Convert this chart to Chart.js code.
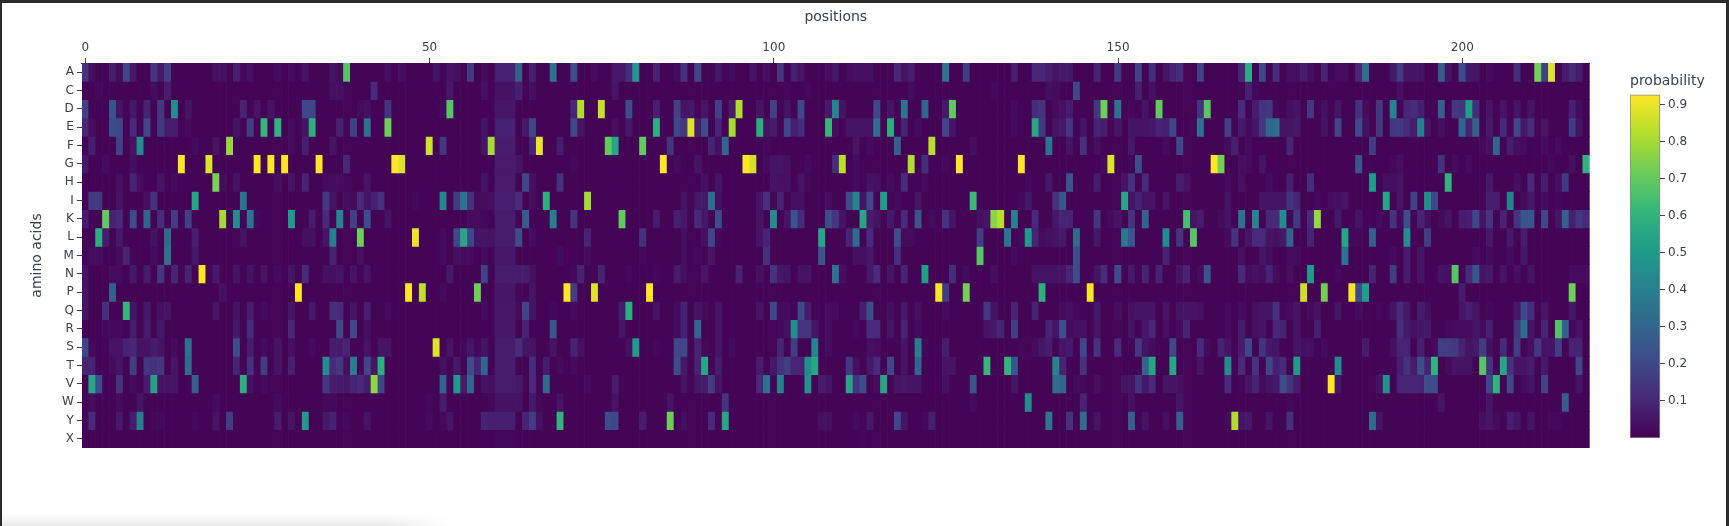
<!DOCTYPE html>
<html>
<head>
<meta charset="utf-8">
<title>Amino acid probabilities by position</title>
<script src="https://cdn.jsdelivr.net/npm/chart.js@4"></script>
<style>
  html, body { margin: 0; padding: 0; background: #fff; overflow: hidden; }
  #page { position: relative; width: 1729px; height: 526px; background: #fff; }
  #frame { position: absolute; left: 0; top: 0; right: 0; bottom: 0; box-sizing: border-box;
           border-top: 3px solid #2b2b2b; border-left: 2px solid #2b2b2b; border-right: 3px solid #2b2b2b; pointer-events: none; }
  #shade { position: absolute; left: 2px; bottom: 0; width: 450px; height: 13px;
           background: linear-gradient(to bottom, rgba(235,235,235,0), rgba(235,235,235,1));
           -webkit-mask-image: linear-gradient(to right, #000 85%, transparent); }
  #heat { position: absolute; left: 0; top: 0; }
  #scale { position: absolute; left: 1630px; top: 70px; }
</style>
</head>
<body>
<div id="page">
  <canvas id="heat" width="1729" height="526"></canvas>
  <canvas id="scale" width="95" height="376"></canvas>
  <div id="shade"></div>
  <div id="frame"></div>
</div>
<script>
// Residues on the vertical axis, top to bottom
const aminoAcids = ['A','C','D','E','F','G','H','I','K','L','M','N','P','Q','R','S','T','V','W','Y','X'];
const positionCount = 219;
const positionTicks = [0, 50, 100, 150, 200];
const probabilityTicks = [0.1, 0.2, 0.3, 0.4, 0.5, 0.6, 0.7, 0.8, 0.9];
const probabilityMax = 0.927;
const floorProbability = 0.01;   // positions not listed for a residue

// Probability per position, one table for each residue
const rowA = {0:.13,1:.04,4:.07,5:.03,6:.2,7:.06,10:.14,11:.06,12:.17,19:.04,20:.04,22:.08,23:.02,24:.04,28:.03,30:.03,32:.05,36:.05,37:.03,38:.68,44:.04,46:.04,51:.05,53:.05,54:.04,56:.16,58:.03,60:.085,61:.085,62:.085,63:.28,65:.08,68:.35,71:.22,74:.03,77:.06,78:.06,79:.12,80:.5,83:.09,86:.03,87:.13,89:.2,92:.06,94:.03,97:.05,99:.04,101:.15,103:.08,104:.05,108:.03,109:.06,111:.03,112:.04,113:.04,114:.04,118:.1,119:.05,120:.07,125:.35,128:.17,135:.08,138:.1,139:.1,140:.07,141:.05,142:.06,143:.06,147:.09,150:.16,153:.18,155:.12,157:.05,158:.09,159:.12,162:.18,168:.1,169:.58,171:.2,173:.12,175:.04,176:.04,177:.07,178:.04,180:.09,182:.03,183:.03,185:.1,186:.33,190:.06,191:.16,192:.05,193:.05,194:.05,197:.27,198:.05,200:.22,201:.06,202:.05,204:.03,208:.12,211:.73,212:.18,213:.88,215:.07,216:.11,217:.07};
const rowC = {2:.02,10:.03,12:.07,36:.04,37:.04,42:.11,53:.06,58:.04,60:.045,61:.045,62:.045,63:.08,65:.04,77:.05,102:.02,105:.02,120:.03,132:.02,140:.04,141:.03,144:.2,153:.08,155:.04,169:.08,170:.02,191:.04};
const rowD = {0:.18,4:.25,5:.05,7:.06,9:.09,11:.15,13:.45,15:.05,23:.09,25:.05,27:.05,32:.2,33:.2,40:.03,41:.04,44:.14,52:.03,53:.68,60:.055,61:.055,62:.055,71:.1,72:.82,75:.85,79:.22,83:.08,86:.18,87:.05,88:.06,90:.05,92:.18,94:.07,95:.82,98:.05,100:.18,102:.05,104:.2,108:.06,109:.42,110:.05,115:.2,117:.05,119:.35,122:.3,125:.06,126:.7,135:.03,138:.12,139:.14,141:.03,142:.04,143:.07,147:.15,148:.72,150:.35,152:.02,154:.05,156:.7,162:.13,163:.68,168:.12,170:.07,171:.14,172:.15,173:.02,175:.04,176:.05,178:.15,180:.04,182:.05,185:.13,186:.03,188:.15,190:.42,192:.1,193:.12,194:.08,197:.28,199:.15,200:.14,201:.52,202:.12,204:.05,206:.05,208:.05,210:.05,216:.08,217:.03};
const rowE = {0:.1,1:.03,4:.22,5:.2,7:.11,9:.2,11:.16,12:.07,13:.07,15:.03,22:.05,24:.17,26:.62,28:.6,30:.03,32:.05,33:.58,37:.09,39:.18,41:.35,44:.72,58:.05,60:.085,61:.085,62:.085,64:.06,65:.2,71:.2,72:.05,77:.04,79:.06,83:.58,86:.2,87:.15,88:.88,89:.07,90:.22,92:.09,94:.8,98:.58,99:.05,100:.07,102:.2,103:.07,104:.12,108:.62,109:.03,111:.05,112:.05,113:.05,114:.05,115:.33,117:.58,119:.09,121:.03,125:.2,126:.05,135:.03,138:.55,139:.16,141:.05,142:.06,143:.15,145:.05,147:.09,148:.07,150:.05,152:.05,153:.05,154:.05,155:.06,156:.09,157:.08,158:.2,161:.02,162:.35,166:.18,168:.06,169:.03,170:.05,171:.15,172:.3,173:.33,174:.05,175:.05,176:.06,180:.05,182:.2,185:.22,186:.05,188:.15,190:.15,191:.16,192:.11,193:.07,194:.4,195:.05,197:.04,200:.3,201:.09,202:.28,204:.06,206:.11,208:.2,209:.06,210:.12,212:.05,216:.17,217:.05};
const rowF = {1:.08,5:.18,7:.05,8:.45,16:.03,19:.05,21:.78,30:.03,32:.08,36:.05,50:.86,52:.15,58:.05,59:.8,60:.07,61:.07,62:.07,65:.09,66:.9,69:.07,76:.7,77:.55,81:.7,85:.14,91:.09,92:.04,93:.3,99:.02,112:.05,114:.03,118:.28,123:.83,129:.04,140:.35,143:.05,145:.13,147:.04,152:.06,157:.03,159:.2,166:.03,167:.08,169:.03,175:.09,187:.17,203:.02,204:.04,205:.3,207:.07,208:.04,209:.03,212:.03,214:.03};
const rowG = {0:.06,3:.03,7:.04,14:.93,18:.88,25:.93,27:.93,29:.93,34:.93,38:.1,45:.93,46:.88,60:.065,61:.065,62:.065,63:.05,71:.02,84:.93,86:.03,89:.05,96:.93,97:.87,99:.03,100:.05,101:.05,102:.04,105:.03,109:.12,110:.83,112:.03,120:.82,122:.12,125:.02,127:.93,136:.93,148:.03,149:.88,153:.22,164:.93,165:.73,168:.04,169:.03,171:.05,185:.25,190:.02,191:.04,197:.13,199:.03,201:.03,213:.02,216:.04,218:.6};
const rowH = {5:.04,7:.09,8:.03,11:.05,13:.03,19:.74,20:.03,22:.05,28:.04,30:.05,32:.09,35:.03,36:.03,37:.03,41:.05,58:.05,60:.065,61:.065,62:.065,64:.2,65:.04,69:.13,90:.04,92:.05,100:.05,101:.04,102:.04,104:.05,105:.02,112:.03,114:.05,115:.04,117:.03,119:.12,122:.03,137:.02,140:.06,143:.25,147:.07,151:.05,152:.13,154:.11,159:.07,160:.05,166:.03,168:.04,172:.03,175:.08,178:.12,187:.5,189:.04,190:.04,191:.05,198:.6,204:.06,208:.04,210:.11,212:.07,214:.04,215:.16};
const rowI = {1:.16,2:.16,5:.05,9:.04,10:.14,16:.55,23:.35,35:.16,36:.05,38:.04,39:.03,40:.11,41:.05,42:.08,43:.13,48:.02,52:.42,54:.17,55:.35,56:.13,57:.03,58:.03,59:.04,60:.08,61:.08,62:.08,63:.11,65:.03,67:.58,73:.8,87:.05,89:.06,90:.06,91:.33,92:.04,98:.05,99:.13,101:.09,103:.04,104:.04,108:.03,111:.22,112:.42,113:.05,114:.2,116:.52,118:.03,121:.05,129:.63,136:.02,137:.06,141:.13,142:.25,151:.55,152:.05,153:.09,154:.05,155:.05,157:.05,166:.05,171:.05,172:.05,173:.05,174:.05,175:.14,176:.09,179:.02,181:.03,182:.04,183:.05,189:.55,191:.05,193:.18,195:.45,196:.2,204:.07,205:.07,207:.42,209:.03,210:.06,212:.03,214:.02};
const rowK = {0:.07,3:.7,4:.09,5:.11,7:.22,9:.3,11:.12,13:.17,15:.18,20:.8,22:.45,24:.35,25:.02,30:.5,33:.07,35:.11,37:.42,39:.18,41:.22,44:.05,56:.03,57:.03,58:.02,60:.07,61:.07,62:.07,64:.27,68:.4,71:.14,78:.7,83:.07,86:.08,87:.06,89:.11,90:.06,92:.22,98:.05,100:.45,102:.05,103:.25,104:.11,108:.22,109:.15,110:.05,113:.55,114:.07,115:.05,117:.06,119:.11,121:.25,123:.03,125:.14,126:.05,130:.04,131:.05,132:.76,133:.83,135:.4,138:.11,141:.06,142:.09,143:.09,147:.15,149:.03,150:.05,152:.14,154:.3,160:.65,161:.05,162:.07,165:.03,166:.05,168:.35,170:.42,172:.1,173:.11,174:.45,176:.16,178:.11,179:.78,182:.06,185:.05,188:.03,190:.14,191:.03,192:.22,194:.09,195:.04,197:.03,198:.05,200:.07,201:.08,202:.2,203:.05,204:.14,206:.09,208:.14,209:.25,210:.25,212:.2,214:.05,215:.28,216:.08,217:.15,218:.11};
const rowL = {2:.58,3:.07,5:.06,10:.05,12:.32,16:.08,23:.05,32:.04,33:.04,35:.05,36:.4,40:.72,48:.9,52:.03,54:.2,55:.55,56:.2,57:.05,58:.05,59:.05,60:.07,61:.07,62:.07,63:.22,65:.03,73:.09,81:.13,87:.04,90:.04,91:.2,92:.02,98:.05,99:.09,107:.55,111:.09,112:.32,114:.11,118:.22,119:.03,120:.03,130:.17,134:.37,136:.02,137:.5,138:.09,139:.03,140:.04,141:.05,142:.06,144:.32,147:.06,151:.38,152:.25,157:.45,159:.14,161:.68,166:.03,167:.14,169:.05,170:.11,171:.11,172:.05,173:.04,174:.06,175:.3,178:.09,183:.55,184:.02,185:.02,187:.28,192:.45,195:.17,204:.06,207:.06,209:.07};
const rowM = {1:.03,2:.03,5:.03,6:.09,10:.03,12:.35,16:.06,36:.09,40:.04,52:.03,54:.04,55:.03,56:.03,58:.03,60:.06,61:.06,62:.06,69:.03,73:.03,81:.02,87:.04,89:.02,91:.05,99:.13,107:.25,112:.04,113:.04,114:.06,118:.12,130:.68,135:.03,144:.22,157:.09,168:.04,171:.05,172:.03,175:.03,176:.03,183:.35,190:.03,192:.07,194:.05,202:.03,204:.03,207:.03,209:.06};
const rowN = {0:.05,4:.03,5:.03,7:.06,9:.07,11:.15,13:.09,15:.09,17:.93,19:.06,22:.05,24:.05,26:.05,28:.03,30:.05,32:.11,35:.04,36:.04,37:.05,39:.05,41:.05,53:.06,58:.18,60:.07,61:.07,62:.07,63:.07,64:.07,65:.04,71:.02,72:.09,75:.09,79:.02,83:.02,86:.07,87:.04,90:.05,95:.09,98:.04,100:.14,101:.06,102:.05,104:.05,105:.05,109:.35,110:.04,114:.06,115:.11,117:.05,119:.09,122:.52,126:.12,128:.03,132:.04,138:.05,139:.05,140:.05,141:.05,142:.05,143:.09,144:.22,147:.05,148:.12,150:.22,152:.06,154:.09,156:.09,159:.05,160:.09,162:.03,163:.25,168:.11,169:.03,170:.04,171:.03,172:.09,173:.03,175:.04,178:.5,182:.02,187:.09,190:.17,192:.07,194:.05,197:.05,198:.04,199:.68,201:.11,202:.25,203:.05,204:.06,206:.05,208:.04,210:.05,216:.03,217:.03,218:.03};
const rowP = {0:.05,4:.28,20:.04,31:.93,47:.93,49:.84,52:.03,57:.72,60:.055,61:.055,62:.055,63:.02,65:.05,70:.93,71:.17,74:.88,82:.93,124:.92,125:.17,128:.73,139:.58,146:.92,177:.86,180:.73,184:.92,185:.22,186:.52,200:.07,216:.72};
const rowQ = {0:.05,3:.13,6:.62,7:.05,9:.06,11:.04,12:.05,19:.05,22:.05,24:.07,26:.03,30:.05,33:.06,36:.12,37:.11,39:.05,41:.08,44:.03,58:.03,60:.06,61:.06,62:.06,63:.03,64:.2,65:.05,68:.02,71:.03,78:.07,79:.58,83:.05,86:.03,87:.09,89:.05,90:.03,92:.05,98:.05,100:.2,101:.03,102:.03,104:.22,105:.07,108:.03,109:.03,113:.08,114:.23,117:.04,119:.06,121:.04,125:.03,131:.16,132:.05,135:.09,138:.09,142:.03,143:.04,144:.02,147:.06,150:.04,152:.04,153:.05,154:.05,155:.05,157:.05,159:.05,160:.05,161:.05,162:.04,166:.03,168:.03,170:.04,171:.05,172:.05,173:.13,174:.02,175:.03,176:.05,178:.03,179:.05,182:.05,185:.03,188:.02,190:.05,191:.11,192:.06,194:.07,195:.04,200:.05,201:.08,202:.05,204:.02,208:.06,209:.2,210:.12,212:.05,216:.06};
const rowR = {3:.02,4:.02,5:.02,7:.07,9:.07,11:.06,22:.06,24:.12,30:.1,37:.2,39:.2,41:.04,60:.06,61:.06,62:.06,64:.09,68:.25,78:.05,86:.03,87:.09,89:.3,92:.05,101:.02,102:.04,103:.45,104:.14,105:.14,106:.05,108:.03,112:.02,114:.12,115:.11,117:.05,119:.09,121:.03,131:.05,132:.06,133:.09,135:.17,140:.09,141:.05,142:.22,143:.03,144:.04,145:.04,147:.05,152:.05,154:.06,155:.1,157:.04,159:.03,160:.09,166:.03,168:.07,170:.04,171:.05,173:.1,174:.09,176:.05,179:.08,191:.12,192:.06,193:.04,194:.05,195:.06,198:.02,199:.03,200:.03,201:.03,202:.05,203:.03,204:.08,208:.15,209:.33,210:.05,212:.09,214:.67,215:.28,216:.02,217:.05};
const rowS = {0:.2,1:.02,4:.05,5:.05,6:.09,7:.1,8:.05,9:.05,10:.07,11:.05,13:.03,15:.35,22:.22,24:.07,26:.03,28:.05,30:.04,33:.03,36:.07,37:.07,38:.09,41:.05,43:.05,44:.05,51:.88,53:.05,55:.02,56:.05,57:.02,58:.05,60:.07,61:.07,62:.07,63:.12,64:.05,65:.05,68:.05,71:.09,72:.04,79:.04,80:.5,83:.02,86:.2,87:.2,89:.09,90:.02,92:.05,94:.03,101:.09,103:.17,106:.42,108:.03,114:.04,115:.03,119:.05,121:.4,122:.02,125:.07,136:.02,138:.03,139:.06,140:.07,142:.05,143:.06,145:.2,147:.14,150:.11,153:.15,154:.05,155:.03,158:.2,162:.11,163:.03,165:.09,166:.05,168:.07,169:.2,171:.14,172:.06,173:.05,176:.05,177:.04,178:.04,180:.03,186:.07,190:.04,191:.09,192:.09,194:.08,196:.03,197:.17,198:.17,199:.16,200:.09,201:.05,202:.06,203:.17,204:.04,206:.11,208:.17,210:.04,211:.15,212:.05,213:.05,214:.17,216:.09,217:.09};
const rowT = {0:.09,1:.09,4:.03,5:.05,7:.17,9:.15,10:.13,11:.15,13:.05,15:.32,22:.09,24:.13,26:.17,28:.05,30:.08,35:.45,36:.11,37:.15,38:.04,39:.4,41:.2,42:.05,43:.58,52:.04,54:.06,56:.22,57:.09,58:.3,60:.07,61:.07,62:.07,65:.12,67:.07,69:.03,71:.03,86:.22,87:.06,89:.09,90:.55,92:.07,98:.07,100:.06,101:.13,102:.17,103:.09,104:.09,105:.45,106:.55,111:.15,112:.04,114:.06,115:.11,117:.2,119:.05,121:.3,125:.05,126:.05,131:.62,134:.6,135:.25,141:.42,142:.09,145:.13,154:.3,155:.55,158:.55,162:.05,166:.45,168:.11,170:.14,172:.2,173:.08,174:.11,176:.5,182:.45,191:.07,192:.13,193:.07,194:.22,195:.09,196:.6,198:.03,199:.05,200:.05,201:.05,203:.68,204:.14,206:.55,207:.13,208:.05,209:.05,210:.07,212:.06,217:.2};
const rowV = {1:.55,2:.22,5:.14,7:.03,9:.07,10:.53,11:.05,12:.05,13:.05,16:.28,23:.58,24:.05,26:.03,35:.15,36:.07,37:.07,38:.06,39:.09,40:.11,41:.07,42:.77,43:.2,52:.3,54:.5,55:.07,56:.3,58:.05,59:.04,60:.07,61:.07,62:.07,63:.06,65:.11,67:.32,73:.03,77:.07,87:.05,89:.06,90:.07,91:.17,92:.05,98:.11,99:.35,101:.42,105:.47,107:.07,108:.05,111:.55,112:.14,113:.22,115:.03,116:.55,118:.05,119:.06,120:.05,121:.05,125:.04,129:.25,135:.05,141:.33,142:.3,144:.03,145:.02,147:.04,151:.05,152:.05,153:.14,154:.06,155:.11,157:.05,158:.05,159:.04,166:.11,169:.05,170:.09,171:.03,172:.05,173:.06,174:.22,175:.14,176:.07,181:.93,182:.05,188:.05,189:.47,191:.09,192:.09,193:.09,194:.09,195:.22,196:.22,204:.2,205:.6,207:.2,209:.03,210:.05,212:.18,217:.05};
const rowW = {1:.03,5:.03,8:.05,19:.03,28:.03,35:.02,36:.02,50:.02,52:.07,59:.02,60:.045,61:.045,62:.045,63:.045,65:.06,66:.02,69:.05,77:.05,85:.05,93:.14,129:.03,137:.45,145:.09,152:.04,159:.05,175:.02,197:.05,204:.05,215:.27};
const rowY = {1:.11,5:.06,7:.07,8:.4,10:.02,11:.02,16:.02,19:.05,21:.17,28:.07,30:.05,32:.5,35:.06,36:.09,38:.02,41:.05,50:.03,52:.02,53:.05,58:.09,59:.08,60:.08,61:.08,62:.08,64:.09,65:.17,66:.04,69:.6,76:.22,77:.2,81:.07,85:.72,87:.04,91:.11,93:.55,107:.04,108:.04,112:.03,114:.06,118:.2,119:.05,122:.02,123:.08,140:.37,143:.13,145:.33,147:.05,152:.28,154:.05,157:.04,159:.28,166:.03,167:.82,168:.05,169:.06,172:.05,175:.13,187:.33,188:.05,203:.04,204:.05,205:.03,207:.08,208:.05,210:.05,213:.02,214:.02};
const rowX = {60:.015,61:.015,62:.015,113:.015};
const residueRows = [rowA,rowC,rowD,rowE,rowF,rowG,rowH,rowI,rowK,rowL,rowM,rowN,rowP,rowQ,rowR,rowS,rowT,rowV,rowW,rowY,rowX];

// Viridis colour stops, bottom of the scale to top
const viridis = ['#440154','#482878','#3e4989','#31688e','#26828e','#1f9e89','#35b779','#6ece58','#b5de2b','#fde725'];
const stopRgb = viridis.map(h => [1,3,5].map(i => parseInt(h.slice(i, i + 2), 16)));

function colourFor(value) {
  const t = Math.min(1, Math.max(0, value / probabilityMax)) * (stopRgb.length - 1);
  const i = Math.min(stopRgb.length - 2, Math.floor(t));
  const f = t - i;
  const c = stopRgb[i].map((v, k) => Math.round(v + (stopRgb[i + 1][k] - v) * f));
  return `rgb(${c[0]},${c[1]},${c[2]})`;
}

const positions = Array.from({ length: positionCount }, (_, i) => i);

// Each residue is one dataset of floating bars spanning its row band
const datasets = residueRows.map((row, r) => {
  const values = positions.map(p => (row[p] === undefined ? floorProbability : row[p]));
  return {
    label: aminoAcids[r],
    data: positions.map(p => ({ x: p, y: [r, r + 1] })),
    backgroundColor: values.map(colourFor),
    borderWidth: 0,
    barPercentage: 1,
    categoryPercentage: 1,
    grouped: false
  };
});

const textFont = 'DejaVu Sans';
const textColour = '#3a404c';
const tickColour = '#444';

new Chart(document.getElementById('heat'), {
  type: 'bar',
  data: { datasets },
  options: {
    responsive: false,
    animation: false,
    events: [],
    layout: { padding: { left: 0, top: 0, right: 139.3, bottom: 78 } },
    plugins: { legend: { display: false }, tooltip: { enabled: false } },
    scales: {
      x: {
        type: 'linear',
        position: 'top',
        offset: false,
        min: -0.5,
        max: positionCount - 0.5,
        afterBuildTicks: s => { s.ticks = positionTicks.map(value => ({ value })); },
        afterFit: s => { s.height = 63; },
        ticks: { font: { family: textFont, size: 12 }, color: textColour, padding: 3, maxRotation: 0, autoSkip: false },
        grid: { offset: false, drawOnChartArea: false, tickLength: 5, tickColor: tickColour },
        border: { display: true, color: '#333', width: 1 },
        title: { display: true, text: 'positions', font: { family: textFont, size: 14 }, color: textColour, padding: { top: 9, bottom: 0 } }
      },
      y: {
        type: 'linear',
        reverse: true,
        min: 0,
        max: aminoAcids.length,
        afterBuildTicks: s => { s.ticks = aminoAcids.map((_, i) => ({ value: i + 0.5 })); },
        afterFit: s => { s.width = 81.86; },
        ticks: {
          font: { family: textFont, size: 12 }, color: textColour, padding: 3, autoSkip: false,
          callback: v => aminoAcids[Math.floor(v)]
        },
        grid: { drawOnChartArea: false, tickLength: 5, tickColor: tickColour },
        border: { display: false },
        title: { display: true, text: 'amino acids', font: { family: textFont, size: 14 }, color: textColour, padding: { top: 29, bottom: 0 } }
      }
    }
  }
});

// Colour bar: a single floating bar over the probability range, filled with the same ramp
new Chart(document.getElementById('scale'), {
  type: 'bar',
  data: {
    labels: ['probability'],
    datasets: [{
      data: [[0, probabilityMax]],
      backgroundColor: ctx => {
        const area = ctx.chart.chartArea;
        if (!area) return viridis[0];
        const g = ctx.chart.ctx.createLinearGradient(0, area.bottom, 0, area.top);
        viridis.forEach((c, i) => g.addColorStop(i / (viridis.length - 1), c));
        return g;
      },
      borderWidth: 1,
      borderColor: '#888',
      borderSkipped: false,
      barPercentage: 1,
      categoryPercentage: 1,
      clip: false
    }]
  },
  options: {
    responsive: false,
    animation: false,
    events: [],
    layout: { padding: { left: 0, top: 0, right: 0, bottom: 8 } },
    plugins: {
      legend: { display: false },
      tooltip: { enabled: false },
      title: { display: true, text: 'probability', align: 'start', color: textColour,
               font: { family: textFont, size: 14, weight: 'normal' }, padding: { top: 3, bottom: 5 } }
    },
    scales: {
      x: { display: false },
      y: {
        position: 'right',
        min: 0,
        max: probabilityMax,
        afterBuildTicks: s => { s.ticks = probabilityTicks.map(value => ({ value })); },
        afterFit: s => { s.width = 65; s.paddingTop = 0; s.paddingBottom = 0; },
        ticks: { font: { family: textFont, size: 12 }, color: textColour, padding: 3, autoSkip: false,
                 callback: v => v.toFixed(1) },
        grid: { drawOnChartArea: false, tickLength: 5, tickColor: tickColour },
        border: { display: false }
      }
    }
  }
});
</script>
</body>
</html>
